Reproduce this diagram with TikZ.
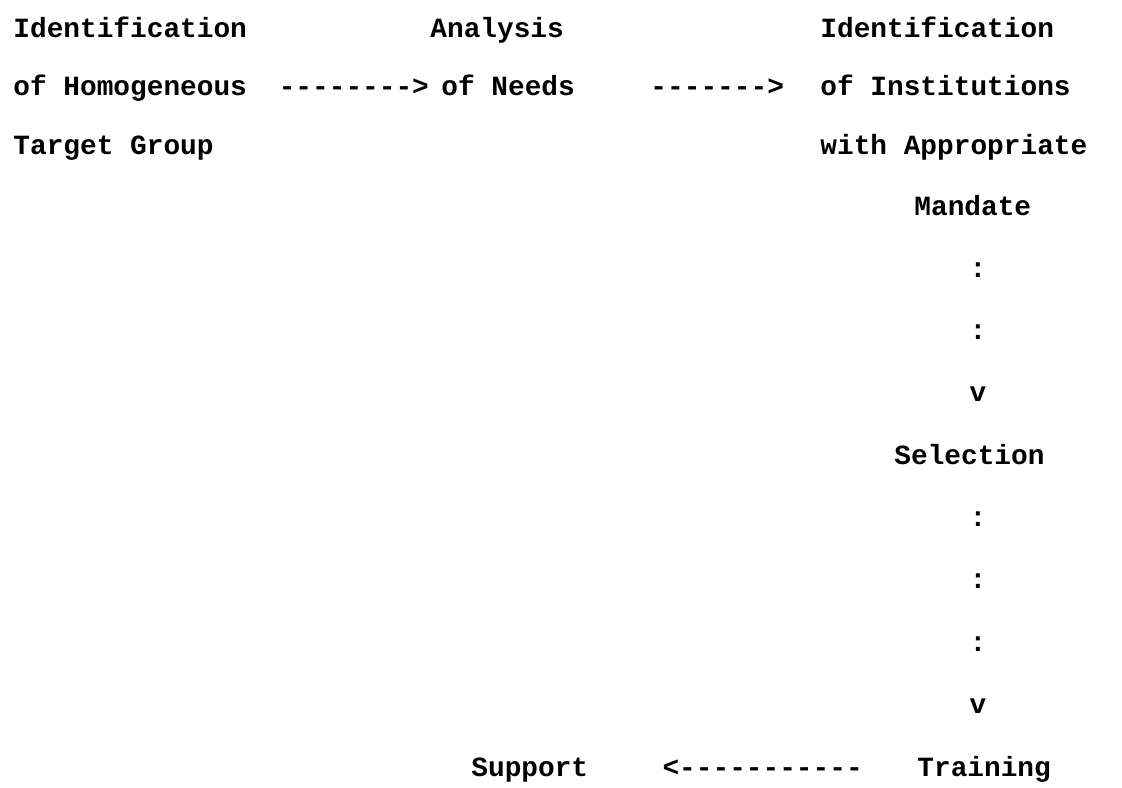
\documentclass[tikz,border=0pt]{standalone}
\usepackage{fontspec}
\setmonofont{Liberation Mono}
\usetikzlibrary{positioning}

\begin{document}
\begin{tikzpicture}[x=0.5pt,y=-0.5pt,
  tw/.style={font=\ttfamily\bfseries\fontsize{13.9}{16}\selectfont,
    inner sep=0pt, text height=8pt, text depth=0pt},
  lbl/.style={tw, anchor=west}]
\useasboundingbox (0,0) rectangle (1122,787);

% Target group
\node[lbl] (ident) at (13,29) {Identification};
\node[lbl] (homog) at (13,87) {of Homogeneous};
\node[lbl] (target) at (13,146) {Target Group};

% Needs
\node[lbl] (analysis) at (430,29) {Analysis};
\node[lbl] (needs) at (441,87) {of Needs};

% Institutions
\node[lbl] (instid) at (820,29) {Identification};
\node[lbl] (inst) at (820,87) {of Institutions};
\node[lbl] (approp) at (820,146) {with Appropriate};
\node[lbl] (mandate) at (914,207) {Mandate};

% Selection, training, support
\node[lbl] (select) at (894,456) {Selection};
\node[lbl] (training) at (917,768) {Training};
\node[lbl] (support) at (471,768) {Support};

\coordinate (spine) at (978,0);

% typed connectors
\path (homog) -- node[tw,pos=0.55] {-------->} (needs);
\path (needs) -- node[tw,pos=0.58] {------->} (inst);
\path (spine |- mandate.center) -- (spine |- select.center)
  node[tw,pos=0.25] {:} node[tw,pos=0.5] {:} node[tw,pos=0.75] {v};
\path (spine |- select.center) -- (spine |- training.center)
  node[tw,pos=0.2] {:} node[tw,pos=0.4] {:} node[tw,pos=0.6] {:}
  node[tw,pos=0.8] {v};
\path (training) -- node[tw,pos=0.47] {<-----------} (support);
\end{tikzpicture}
\end{document}
